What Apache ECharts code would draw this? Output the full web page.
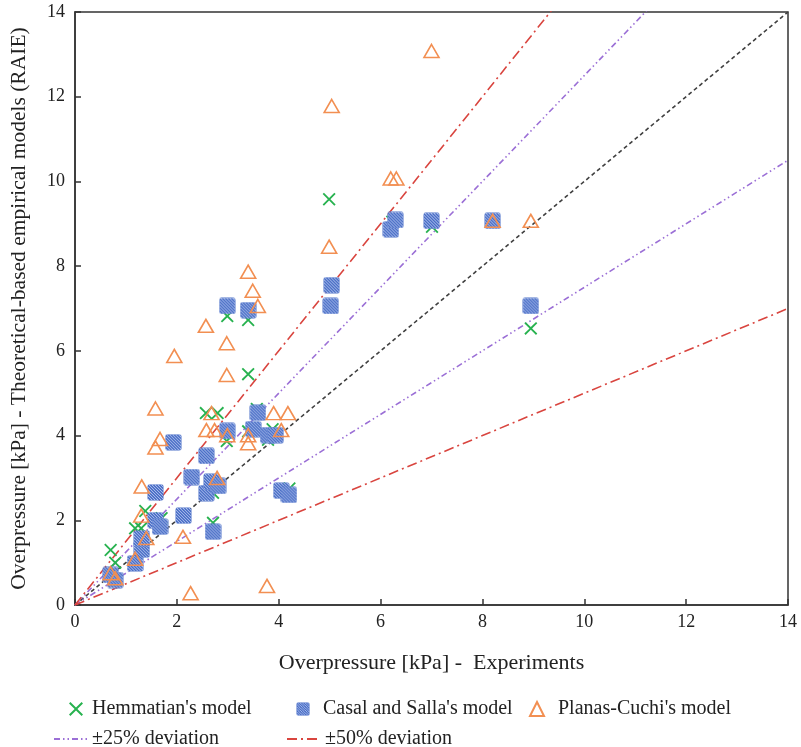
<!DOCTYPE html>
<html>
<head>
<meta charset="utf-8">
<script src="https://cdn.jsdelivr.net/npm/echarts@6/dist/echarts.min.js"></script>
<style>html,body{margin:0;padding:0;background:#fff}#c{width:801px;height:747px}</style>
</head>
<body>
<div id="c"></div>
<script>
// Hemmatian's model (green X)
const hemX = [0.70,0.79,1.18,1.30,1.38,1.70,2.71,2.71,2.57,2.80,2.98,3.40,3.57,3.79,3.88,4.21,3.40,2.99,3.40,4.99,6.23,7.01,8.95];
const hemY = [1.30,1.00,1.81,1.81,2.22,2.05,1.94,2.65,4.53,4.53,3.87,4.10,4.63,3.90,4.15,2.75,5.45,6.82,6.73,9.58,9.05,8.93,6.53];
// Casal and Salla's model (blue hatched squares)
const casX = [0.70,0.79,1.18,1.31,1.31,1.58,1.67,1.58,2.13,1.93,2.29,2.58,2.58,2.68,2.81,2.71,2.99,3.50,3.59,3.79,3.94,4.05,4.20,2.99,3.40,5.04,5.02,6.20,6.29,7.00,8.20,8.95];
const casY = [0.71,0.59,0.98,1.31,1.57,2.00,1.85,2.66,2.11,3.84,3.02,3.52,2.64,2.91,2.81,1.73,4.11,4.15,4.54,4.01,4.01,2.70,2.60,7.06,6.96,7.55,7.06,8.87,9.09,9.07,9.07,7.06];
// Planas-Cuchi's model (orange triangles)
const plaX = [0.70,0.79,1.18,1.30,1.31,1.40,1.58,1.58,1.67,1.95,2.12,2.27,2.57,2.58,2.74,2.68,2.79,2.98,2.98,2.99,3.40,3.40,3.40,3.49,3.59,3.77,3.90,4.05,4.18,4.99,5.04,6.20,6.31,7.00,8.20,8.95];
const plaY = [0.75,0.63,1.09,2.11,2.80,1.58,3.72,4.64,3.92,5.88,1.61,0.28,6.59,4.13,4.13,4.53,3.00,6.18,5.43,4.01,4.01,3.82,7.87,7.42,7.06,0.45,4.53,4.13,4.53,8.46,11.78,10.07,10.07,13.08,9.07,9.07];
// reference lines: ratio of model to experiment
const refRatios = [1.0, 1.25, 0.75, 1.5, 0.5];
const axisMax = 14;
const tickStep = 2;

const pair = (xs, ys) => xs.map((x, i) => [x, ys[i]]);

function hatchedSquare(n) {
  const c = document.createElement('canvas');
  c.width = n; c.height = n;
  const g = c.getContext('2d');
  const r = 2.5;
  g.beginPath();
  g.moveTo(r, 0.5); g.lineTo(n - r, 0.5); g.quadraticCurveTo(n - 0.5, 0.5, n - 0.5, r);
  g.lineTo(n - 0.5, n - r); g.quadraticCurveTo(n - 0.5, n - 0.5, n - r, n - 0.5);
  g.lineTo(r, n - 0.5); g.quadraticCurveTo(0.5, n - 0.5, 0.5, n - r);
  g.lineTo(0.5, r); g.quadraticCurveTo(0.5, 0.5, r, 0.5);
  g.closePath();
  g.fillStyle = '#4a6ec6';
  g.fill();
  g.save();
  g.clip();
  g.strokeStyle = '#b3c5f0';
  g.lineWidth = 1;
  for (let k = -n; k < 2 * n; k += 3) {
    g.beginPath(); g.moveTo(k, 0); g.lineTo(k + n, n); g.stroke();
  }
  g.restore();
  g.strokeStyle = '#a4baec';
  g.lineWidth = 1;
  g.stroke();
  return 'image://' + c.toDataURL();
}

const FONT = '"Liberation Serif", "Times New Roman", serif';
const xPath = 'path://M0,1L1,0L5,4L9,0L10,1L6,5L10,9L9,10L5,6L1,10L0,9L4,5Z';
const squareImg = hatchedSquare(17);

const lineStyles = {
  1.0: {name: 'y=x', color: '#404040', type: [4, 3]},
  1.25: {name: '±25% deviation', color: '#9b6fd6', type: [6, 3, 1.5, 3, 1.5, 3]},
  0.75: {name: '±25% deviation', color: '#9b6fd6', type: [6, 3, 1.5, 3, 1.5, 3]},
  1.5: {name: '±50% deviation', color: '#d9453f', type: [10, 4, 2, 4]},
  0.5: {name: '±50% deviation', color: '#d9453f', type: [10, 4, 2, 4]}
};

const lineSeries = refRatios.map(r => ({
  type: 'line',
  name: lineStyles[r].name,
  data: [[0, 0], [axisMax, axisMax * r]],
  symbol: 'none',
  clip: true,
  silent: true,
  z: 1,
  itemStyle: {color: lineStyles[r].color},
  lineStyle: {color: lineStyles[r].color, width: 1.6, type: lineStyles[r].type}
}));

const legText = {fontFamily: FONT, fontSize: 20, color: '#222'};

const chart = echarts.init(document.getElementById('c'));
chart.setOption({
  animation: false,
  backgroundColor: '#fff',
  grid: {left: 71, right: 13, top: 12, bottom: 142, show: true, borderColor: '#333', borderWidth: 1.5, backgroundColor: 'transparent'},
  xAxis: {
    type: 'value', min: 0, max: axisMax, interval: tickStep,
    name: 'Overpressure [kPa] -  Experiments', nameLocation: 'middle', nameGap: 47,
    nameTextStyle: {fontFamily: FONT, fontSize: 22, color: '#222'},
    axisLine: {show: true, lineStyle: {color: '#333', width: 1.5}},
    axisTick: {show: true, inside: true, length: 6, lineStyle: {color: '#333', width: 1.5}},
    axisLabel: {fontFamily: FONT, fontSize: 18, color: '#222', margin: 8},
    splitLine: {show: false}
  },
  yAxis: {
    type: 'value', min: 0, max: axisMax, interval: tickStep,
    name: 'Overpressure [kPa] - Theoretical-based empirical models (RAIE)', nameLocation: 'middle', nameGap: 45,
    nameTextStyle: {fontFamily: FONT, fontSize: 21.5, color: '#222'},
    axisLine: {show: true, lineStyle: {color: '#333', width: 1.5}},
    axisTick: {show: true, inside: true, length: 6, lineStyle: {color: '#333', width: 1.5}},
    axisLabel: {fontFamily: FONT, fontSize: 18, color: '#222', margin: 10},
    splitLine: {show: false}
  },
  legend: [
    {data: ["Hemmatian's model"], left: 64, top: 694, itemWidth: 14, itemHeight: 14,
      textStyle: Object.assign({padding: [0, 0, 0, 4]}, legText)},
    {data: ["Casal and Salla's model"], left: 291, top: 694, itemWidth: 14, itemHeight: 14,
      textStyle: Object.assign({padding: [0, 0, 0, 8]}, legText)},
    {data: ["Planas-Cuchi's model"], left: 524, top: 694, itemWidth: 14, itemHeight: 14,
      textStyle: Object.assign({padding: [0, 0, 0, 9]}, legText)},
    {data: ['±25% deviation'], left: 48, top: 724, itemWidth: 33, itemHeight: 14,
      itemStyle: {opacity: 0}, textStyle: legText},
    {data: ['±50% deviation'], left: 281, top: 724, itemWidth: 33, itemHeight: 14,
      itemStyle: {opacity: 0}, textStyle: legText}
  ],
  series: [
    ...lineSeries,
    {
      type: 'scatter', name: "Hemmatian's model", data: pair(hemX, hemY),
      symbol: xPath, symbolSize: 13, z: 2,
      itemStyle: {color: '#27b24f', opacity: 1}
    },
    {
      type: 'scatter', name: "Casal and Salla's model", data: pair(casX, casY),
      symbol: squareImg, symbolSize: 17, z: 3,
      itemStyle: {color: '#4a6ec6', opacity: 1}
    },
    {
      type: 'scatter', name: "Planas-Cuchi's model", data: pair(plaX, plaY),
      symbol: 'triangle', symbolSize: [15, 13], z: 4,
      itemStyle: {color: 'rgba(255,255,255,0)', borderColor: '#f28f52', borderWidth: 1.6, opacity: 1}
    }
  ]
});
</script>
</body>
</html>
